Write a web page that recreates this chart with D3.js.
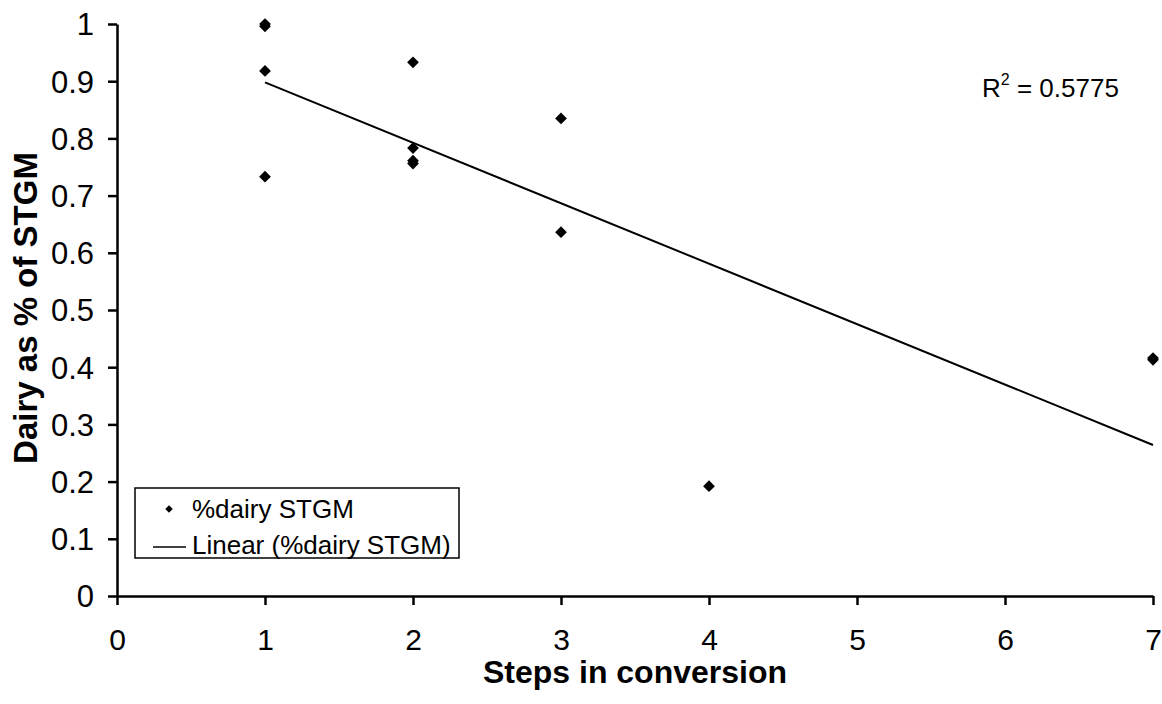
<!DOCTYPE html>
<html>
<head>
<meta charset="utf-8">
<script src="https://cdn.jsdelivr.net/npm/d3@7"></script>
<style>
  html, body { margin: 0; padding: 0; background: #fff; }
  svg { display: block; }
  text { font-family: "Liberation Sans", Arial, sans-serif; fill: #000; }
</style>
</head>
<body>
<svg id="chart" width="1162" height="704"></svg>
<script>
// ---- data ----
const stepsX = [1, 1, 1, 1, 2, 2, 2, 2, 3, 3, 4, 7, 7];
const dairyY = [1.0, 0.996, 0.918, 0.733, 0.933, 0.783, 0.761, 0.756, 0.835, 0.636, 0.192, 0.416, 0.413];
const trendX = [1, 7];
const trendY = [0.898, 0.264];
const xTicks = [0, 1, 2, 3, 4, 5, 6, 7];
const yTicks = [0, 0.1, 0.2, 0.3, 0.4, 0.5, 0.6, 0.7, 0.8, 0.9, 1];
const seriesName = "%dairy STGM";
const trendName = "Linear (%dairy STGM)";
const rSquared = "0.5775";
const xTitle = "Steps in conversion";
const yTitle = "Dairy as % of STGM";

const svg = d3.select("#chart");
const x = d3.scaleLinear().domain([0, 7]).range([117, 1153]);
const y = d3.scaleLinear().domain([0, 1]).range([596, 24]);

// axes
const yAxis = d3.axisLeft(y).tickValues(yTicks).tickFormat(d3.format(".1~f")).tickSize(9).tickSizeOuter(0).tickPadding(14);
const xAxis = d3.axisBottom(x).tickValues(xTicks).tickFormat(d3.format("d")).tickSize(9).tickSizeOuter(0).tickPadding(24);

const gy = svg.append("g").attr("transform", `translate(${x(0)},0)`).call(yAxis);
const gx = svg.append("g").attr("transform", `translate(0,${y(0)})`).call(xAxis);
[gx, gy].forEach(g => {
  g.selectAll("path.domain").attr("stroke", "#000").attr("stroke-width", 2.5);
  g.selectAll(".tick line").attr("stroke", "#000").attr("stroke-width", 2.5);
  g.selectAll(".tick text").attr("font-size", 31).attr("font-family", "'Liberation Sans', Arial, sans-serif").attr("fill", "#000");
});
gy.selectAll(".tick text").attr("dy", "0.35em");
gx.selectAll(".tick text").attr("font-size", 30);

// trend line
const line = d3.line().x(d => x(d[0])).y(d => y(d[1]));
svg.append("path")
  .datum(d3.zip(trendX, trendY))
  .attr("d", line)
  .attr("fill", "none").attr("stroke", "#000").attr("stroke-width", 2);

// points
const diamond = d3.symbol().type(d3.symbolDiamond2).size(88);
svg.append("g").selectAll("path")
  .data(d3.zip(stepsX, dairyY))
  .join("path")
  .attr("d", diamond)
  .attr("transform", d => `translate(${x(d[0])},${y(d[1])})`)
  .attr("fill", "#000");

// titles
svg.append("text")
  .attr("x", (x(0) + x(7)) / 2).attr("y", 683)
  .attr("text-anchor", "middle").attr("font-size", 32).attr("font-weight", "bold")
  .text(xTitle);
svg.append("text")
  .attr("transform", `translate(37,${(y(0) + y(1)) / 2 - 2}) rotate(-90)`)
  .attr("text-anchor", "middle").attr("font-size", 33).attr("font-weight", "bold")
  .text(yTitle);

// R squared
const r2 = svg.append("text").attr("x", 982).attr("y", 97).attr("font-size", 26);
r2.append("tspan").text("R");
r2.append("tspan").attr("font-size", 16).attr("dy", -12).text("2");
r2.append("tspan").attr("dy", 12).text(" = " + rSquared);

// legend
const lg = svg.append("g");
lg.append("rect").attr("x", 135).attr("y", 488).attr("width", 324).attr("height", 70)
  .attr("fill", "#fff").attr("stroke", "#000").attr("stroke-width", 1.5);
lg.append("path").attr("d", d3.symbol().type(d3.symbolDiamond2).size(36))
  .attr("transform", "translate(169,509)").attr("fill", "#000");
lg.append("text").attr("x", 192).attr("y", 518).attr("font-size", 26).text(seriesName);
lg.append("line").attr("x1", 153).attr("x2", 186).attr("y1", 547).attr("y2", 547)
  .attr("stroke", "#000").attr("stroke-width", 1.6);
lg.append("text").attr("x", 192).attr("y", 554).attr("font-size", 26).text(trendName);
</script>
</body>
</html>
